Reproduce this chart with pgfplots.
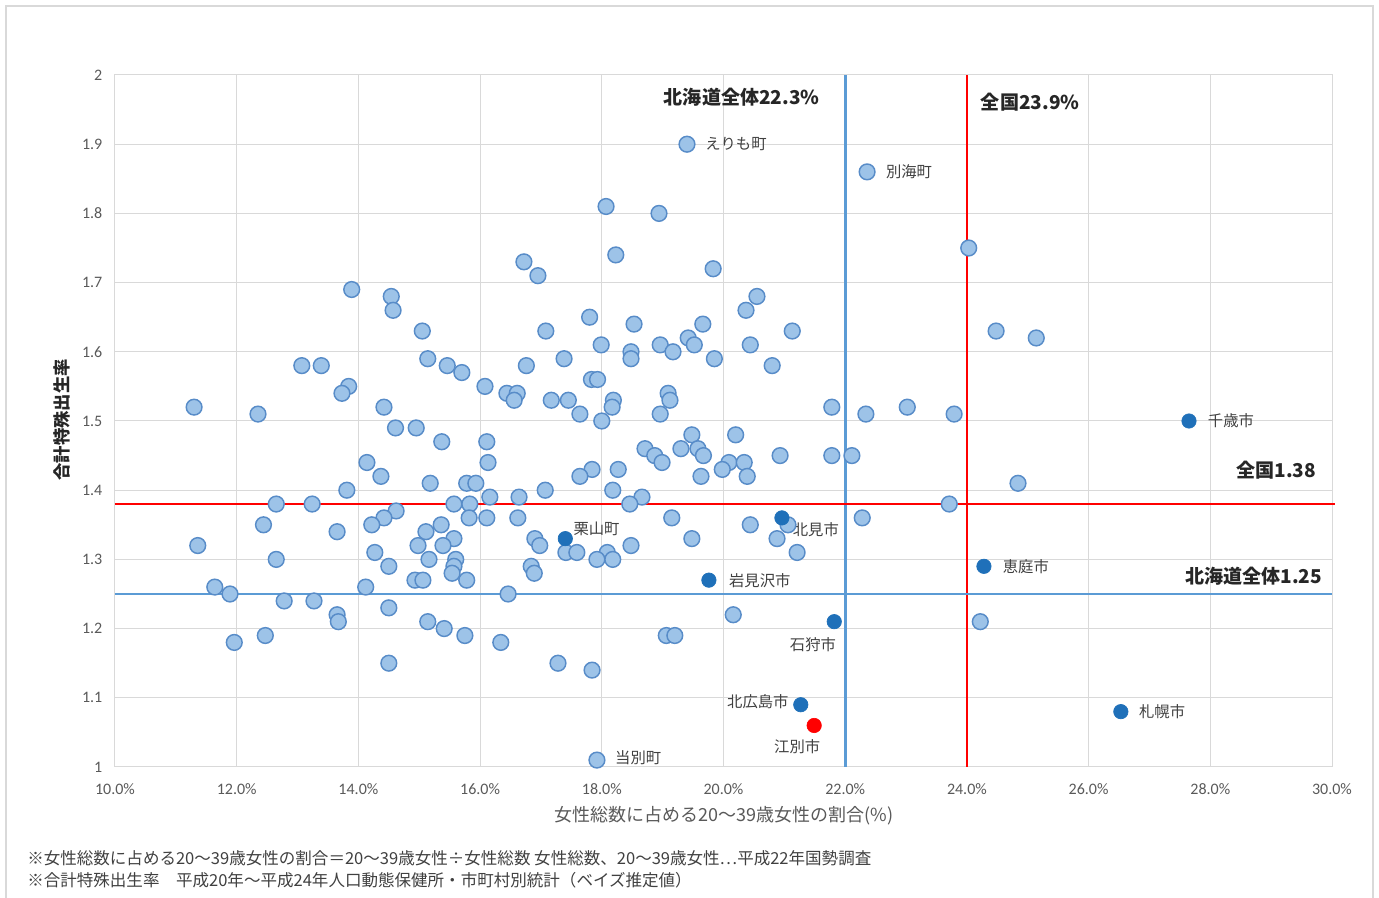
\documentclass[border=0pt]{standalone}
\usepackage{fontspec}
\setmainfont{Carlito}
\newfontfamily\jp{Noto Sans CJK JP}
\usepackage{pgfplots}
\pgfplotsset{compat=1.18}
\usepackage{pgfplotstable}
\definecolor{ptfill}{RGB}{157,195,232}
\definecolor{ptedge}{RGB}{88,140,200}
\definecolor{darkpt}{RGB}{31,112,185}
\definecolor{lblue}{RGB}{91,155,213}
\definecolor{gridc}{RGB}{217,217,217}
\definecolor{txt}{RGB}{89,89,89}
\definecolor{lbl}{RGB}{64,64,64}
\definecolor{ann}{RGB}{38,38,38}

\pgfplotstableread{
x y
19.40 1.90
22.36 1.86
18.07 1.81
18.94 1.80
24.03 1.75
18.23 1.74
16.72 1.73
16.95 1.71
19.83 1.72
13.89 1.69
14.54 1.68
14.57 1.66
20.55 1.68
20.37 1.66
17.80 1.65
19.66 1.64
18.53 1.64
15.05 1.63
17.08 1.63
21.13 1.63
24.48 1.63
25.14 1.62
19.42 1.62
19.52 1.61
17.99 1.61
18.48 1.60
18.48 1.59
18.96 1.61
19.17 1.60
20.44 1.61
19.85 1.59
15.14 1.59
17.38 1.59
20.80 1.58
13.07 1.58
13.39 1.58
15.46 1.58
16.76 1.58
15.70 1.57
17.83 1.56
17.93 1.56
13.84 1.55
16.08 1.55
13.73 1.54
16.44 1.54
16.61 1.54
16.56 1.53
19.09 1.54
19.12 1.53
17.17 1.53
17.45 1.53
18.19 1.53
18.17 1.52
11.30 1.52
14.42 1.52
21.78 1.52
23.02 1.52
12.35 1.51
17.64 1.51
18.96 1.51
22.34 1.51
23.79 1.51
18.00 1.50
14.61 1.49
14.95 1.49
19.48 1.48
20.20 1.48
15.37 1.47
16.11 1.47
18.71 1.46
19.30 1.46
19.58 1.46
18.87 1.45
19.67 1.45
20.93 1.45
21.78 1.45
22.11 1.45
14.14 1.44
16.13 1.44
18.99 1.44
20.09 1.44
20.34 1.44
19.98 1.43
17.84 1.43
18.27 1.43
14.37 1.42
17.64 1.42
19.63 1.42
20.39 1.42
15.18 1.41
15.78 1.41
15.93 1.41
24.84 1.41
13.81 1.40
17.07 1.40
18.18 1.40
16.16 1.39
16.64 1.39
18.66 1.39
18.46 1.38
12.65 1.38
13.24 1.38
15.57 1.38
15.83 1.38
23.71 1.38
14.62 1.37
15.82 1.36
16.11 1.36
16.62 1.36
19.15 1.36
22.28 1.36
14.42 1.36
21.06 1.35
12.44 1.35
14.22 1.35
15.36 1.35
20.44 1.35
15.11 1.34
13.65 1.34
16.90 1.33
15.57 1.33
19.48 1.33
20.88 1.33
11.36 1.32
14.98 1.32
15.39 1.32
16.98 1.32
18.48 1.32
14.27 1.31
17.41 1.31
17.59 1.31
18.09 1.31
21.21 1.31
12.65 1.30
15.16 1.30
15.60 1.30
17.92 1.30
18.18 1.30
14.50 1.29
15.57 1.29
16.84 1.29
15.54 1.28
16.89 1.28
14.93 1.27
15.06 1.27
15.78 1.27
11.64 1.26
14.12 1.26
11.89 1.25
16.46 1.25
12.78 1.24
13.27 1.24
14.50 1.23
13.65 1.22
20.16 1.22
13.67 1.21
15.14 1.21
24.22 1.21
15.41 1.20
12.47 1.19
15.75 1.19
19.06 1.19
19.20 1.19
11.96 1.18
16.34 1.18
14.50 1.15
17.28 1.15
17.84 1.14
17.92 1.01
}\lightpts

\pgfplotstableread{
x y
27.65 1.50
20.96 1.36
17.40 1.33
24.28 1.29
19.76 1.27
21.82 1.21
21.27 1.09
26.53 1.08
}\darkpts

\pgfplotstableread{
x y
21.49 1.06
}\redpts

\begin{document}
\begin{tikzpicture}
\begin{scope}[x=0.75pt,y=0.75pt]
\useasboundingbox (0,0) rectangle (1379,897);
\draw[gridc, line width=1.2pt] (6,-5) -- (6,891) -- (1373,891) -- (1373,-5);
\end{scope}
\begin{axis}[
  at={(86.25pt,97.5pt)}, anchor=south west,
  scale only axis, width=912.75pt, height=519pt,
  xmin=10, xmax=30, ymin=1, ymax=2,
  clip=false,
  xtick={10,12,14,16,18,20,22,24,26,28,30},
  ytick={1,1.1,1.2,1.3,1.4,1.5,1.6,1.7,1.8,1.9,2},
  grid=major,
  major grid style={gridc, line width=0.75pt},
  axis line style={gridc, line width=0.75pt},
  tick style={draw=none},
  /pgf/number format/assume math mode=true,
  xticklabel={\pgfmathprintnumber[fixed,fixed zerofill,precision=1]{\tick}\%},
  yticklabel={\pgfmathprintnumber{\tick}},
  ticklabel style={font=\fontsize{12}{14}\selectfont, text=txt},
  xticklabel style={yshift=-8.75pt},
  yticklabel style={xshift=-6pt},
]
\addplot[only marks, mark=*, mark size=5.9pt, mark options={fill=ptfill, draw=ptedge, line width=1.1pt}] table {\lightpts};
\addplot[only marks, mark=*, mark size=5.4pt, mark options={fill=darkpt, draw=darkpt, line width=0.5pt}] table {\darkpts};
\addplot[only marks, mark=*, mark size=5.4pt, mark options={fill=red, draw=red, line width=0.5pt}] table {\redpts};

\addplot[lblue, line width=2pt] coordinates {(22,1) (22,2)};
\addplot[red, line width=2pt] coordinates {(24,1) (24,2)};
\addplot[red, line width=2pt] coordinates {(10,1.38) (30.05,1.38)};
\addplot[lblue, line width=2pt] coordinates {(10,1.25) (30,1.25)};

\begin{scope}[every node/.style={font=\jp\fontsize{11.5}{13}\selectfont, text=lbl, inner sep=0pt}]
\node[anchor=west, xshift=13.5pt] at (axis cs:19.40,1.90) {えりも町};
\node[anchor=west, xshift=14pt] at (axis cs:22.36,1.86) {別海町};
\node[anchor=west, xshift=14pt] at (axis cs:27.65,1.50) {千歳市};
\node[anchor=west, xshift=8pt, yshift=-9pt] at (axis cs:20.96,1.36) {北見市};
\node[anchor=west, xshift=6pt, yshift=7.5pt] at (axis cs:17.40,1.33) {栗山町};
\node[anchor=west, xshift=15pt] at (axis cs:19.76,1.27) {岩見沢市};
\node[anchor=west, xshift=14pt] at (axis cs:24.28,1.29) {恵庭市};
\node[anchor=east, xshift=1.5pt, yshift=-17pt] at (axis cs:21.82,1.21) {石狩市};
\node[anchor=east, xshift=-9pt, yshift=2pt] at (axis cs:21.27,1.09) {北広島市};
\node[anchor=center, xshift=-12.75pt, yshift=-15.75pt] at (axis cs:21.49,1.06) {江別市};
\node[anchor=west, xshift=13.5pt] at (axis cs:26.53,1.08) {札幌市};
\node[anchor=west, xshift=13.5pt, yshift=2pt] at (axis cs:17.92,1.01) {当別町};
\end{scope}

\begin{scope}[every node/.style={font=\jp\bfseries\fontsize{14.3}{16}\selectfont, text=ann, inner sep=0pt}]
\node[anchor=center] at (axis cs:20.30,1.968) {北海道全体22.3\%};
\node[anchor=center] at (axis cs:25.04,1.961) {全国23.9\%};
\node[anchor=east] at (axis cs:29.74,1.429) {全国1.38};
\node[anchor=east] at (axis cs:29.84,1.275) {北海道全体1.25};
\end{scope}
\end{axis}

\begin{scope}[x=0.75pt,y=0.75pt]
\node[font=\jp\fontsize{13.5}{15}\selectfont, text=txt, inner sep=0pt] at (724,81) {女性総数に占める20～39歳女性の割合(\%)};
\node[font=\jp\bfseries\fontsize{13}{15}\selectfont, text=ann, inner sep=0pt, rotate=90] at (62,477) {合計特殊出生率};
\node[font=\jp\fontsize{12.4}{14}\selectfont, text=lbl, inner sep=0pt, anchor=west] at (27,39) {※女性総数に占める20～39歳女性の割合＝20～39歳女性÷女性総数\ 女性総数、20～39歳女性…平成22年国勢調査};
\node[font=\jp\fontsize{12.4}{14}\selectfont, text=lbl, inner sep=0pt, anchor=west] at (27,17) {※合計特殊出生率\quad 平成20年～平成24年人口動態保健所・市町村別統計（ベイズ推定値）};
\end{scope}
\end{tikzpicture}
\end{document}
